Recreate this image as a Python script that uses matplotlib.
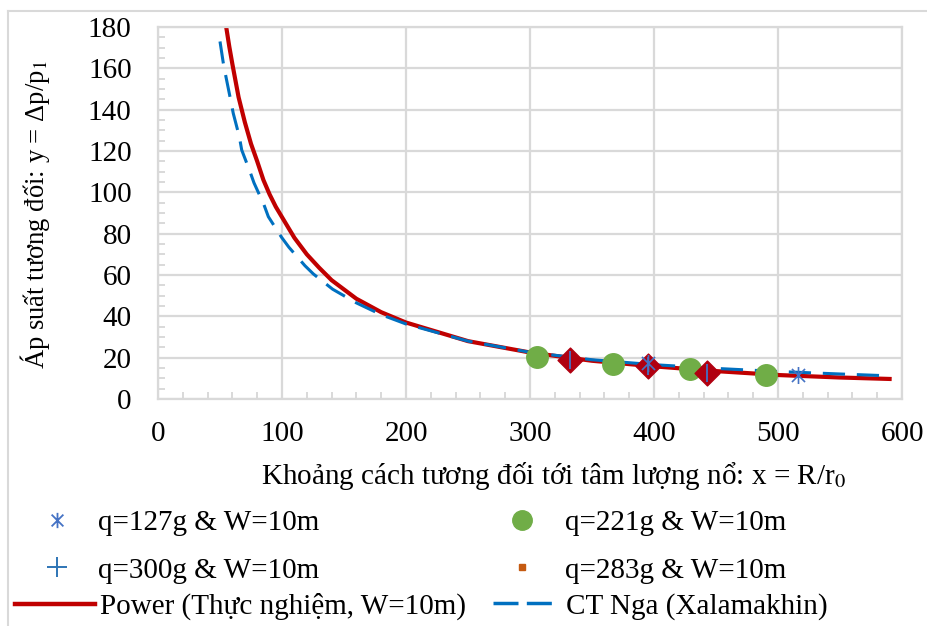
import matplotlib
matplotlib.use("Agg")
import matplotlib.pyplot as plt
from matplotlib.lines import Line2D
from matplotlib.path import Path
from matplotlib.ticker import MultipleLocator

plt.rcParams['font.family'] = ['Liberation Serif', 'DejaVu Serif']
plt.rcParams['mathtext.fontset'] = 'stix'
plt.rcParams['lines.scale_dashes'] = False

# --- data ---
# q=127g & W=10m
x_127 = [395, 516]
y_127 = [17.5, 11.5]
# q=221g & W=10m
x_221 = [306, 367, 429, 490]
y_221 = [20.5, 17.0, 14.5, 11.5]
# q=300g & W=10m
x_300 = [332, 395, 443]
y_300 = [19.0, 16.0, 12.5]
# q=283g & W=10m
x_283 = [332, 395, 443]
y_283 = [19.0, 16.0, 12.5]

# Power trendline (Thực nghiệm)
x_pow = [55, 57.5, 60, 62.5, 65, 67.5, 70, 75, 80, 85, 90, 95, 100, 110, 120,
         130, 140, 160, 180, 200, 250, 300, 350, 400, 450, 500, 550, 590]
y_pow = [180, 170.5, 162, 154, 146, 140, 134, 123.5, 115, 106, 99, 93, 88, 78,
         70, 63.5, 57.5, 48.5, 42, 37, 28, 22.5, 18.5, 15.8, 13.5, 11.6, 10.4, 9.7]

# CT Nga (Xalamakhin)
x_nga = [50, 52.7, 54.8, 58.6, 60.7, 65.6, 67.5, 74.2, 77.4, 85.5, 89, 99.7,
         105.6, 118.5, 125.3, 140.9, 160, 180, 200, 250, 300, 350, 400, 450,
         500, 550, 590]
y_nga = [173, 162.4, 155.9, 144.6, 138.2, 126.9, 120.5, 110, 104.6, 93.9, 88.2,
         78.2, 73.4, 64.5, 60.5, 53.1, 46.5, 40.8, 36.3, 28, 22.6, 19, 16.6,
         14.8, 13.3, 12.1, 11.2]

# asterisk marker: x plus vertical bar
star = Path([(-1, -1), (1, 1), (-1, 1), (1, -1), (0, -1.3), (0, 1.3)],
            [Path.MOVETO, Path.LINETO, Path.MOVETO, Path.LINETO, Path.MOVETO, Path.LINETO])

grey = '#D9D9D9'
c_red = '#C00000'
c_blue = '#0070C0'
fs = 21

fig = plt.figure(figsize=(9.28, 6.26), dpi=100)
ax = fig.add_axes([158/928, 1 - 399/626, 744/928, 372/626])

ax.plot(x_nga, y_nga, color=c_blue, lw=2.2, dashes=(16, 8.5), zorder=3)
ax.plot(x_pow, y_pow, color=c_red, lw=3.0, zorder=2)

ax.scatter(x_221, y_221, s=240, color='#70AD47', zorder=4)
ax.scatter(x_283, y_283, s=160, marker='D', color='#B00010', zorder=5)
ax.scatter(x_300, y_300, s=170, marker='|', color='#4472C4', linewidths=1.3, zorder=6)
ax.scatter(x_127, y_127, s=150, marker=star, color='#4472C4', linewidths=1.2, zorder=6)

ax.set_xlim(0, 600)
ax.set_ylim(0, 180)
ax.xaxis.set_major_locator(MultipleLocator(100))
ax.yaxis.set_major_locator(MultipleLocator(20))
ax.xaxis.set_minor_locator(MultipleLocator(20))
ax.yaxis.set_minor_locator(MultipleLocator(5))
ax.grid(True, which='major', color=grey, lw=1.6)
ax.set_axisbelow(True)
for s in ax.spines.values():
    s.set_color(grey)
    s.set_linewidth(1.6)
ax.tick_params(which='major', length=0, labelsize=fs)
ax.tick_params(axis='x', which='major', pad=16)
ax.tick_params(axis='y', which='major', pad=19)
ax.tick_params(which='minor', direction='in', length=5, width=1.4, color=grey)

ax.set_xlabel('Khoảng cách tương đối tới tâm lượng nổ: x = R/r$_0$', fontsize=fs)
ax.set_ylabel('Áp suất tương đối: y = Δp/p$_1$', fontsize=19.2)
ax.xaxis.set_label_coords(0.532, -0.163)
ax.yaxis.set_label_coords(-0.143, 0.495)

# outer chart border (cropped)
fig.add_artist(Line2D([8/928, 1], [1 - 11/626, 1 - 11/626], color=grey, lw=1.5))
fig.add_artist(Line2D([8/928, 8/928], [0, 1 - 11/626], color=grey, lw=1.5))

# legend
h127 = Line2D([], [], ls='none', marker=star, ms=11, mew=1.3, color='#4472C4')
h300 = Line2D([], [], ls='none', marker='+', ms=14, mew=1.4, color='#2E75B6')
h221 = Line2D([], [], ls='none', marker='o', ms=14, color='#70AD47')
h283 = Line2D([], [], ls='none', marker='s', ms=5, color='#C55A11')
hpow = Line2D([], [], color=c_red, lw=3.2)
hnga = Line2D([], [], color=c_blue, lw=2.5, dashes=(18, 6))

kw = dict(frameon=False, fontsize=fs, borderpad=0, borderaxespad=0,
          loc='upper left', bbox_transform=fig.transFigure, labelspacing=0.71)
leg1 = fig.legend([h127, h300], ['q=127g & W=10m', 'q=300g & W=10m'],
                  bbox_to_anchor=(28/928, 1 - 510/626), handlelength=2,
                  handletextpad=0.41, **kw)
leg2 = fig.legend([h221, h283], ['q=221g & W=10m', 'q=283g & W=10m'],
                  bbox_to_anchor=(493/928, 1 - 510/626), handlelength=2,
                  handletextpad=0.48, **kw)
leg3 = fig.legend([hpow], ['Power (Thực nghiệm, W=10m)'],
                  bbox_to_anchor=(15/928, 1 - 593/626), handlelength=2.74,
                  handletextpad=0.17, **kw)
leg4 = fig.legend([hnga], ['CT Nga (Xalamakhin)'],
                  bbox_to_anchor=(493/928, 1 - 593/626), handlelength=2.1,
                  handletextpad=0.41, **kw)

fig.savefig('out.png', dpi=100)
